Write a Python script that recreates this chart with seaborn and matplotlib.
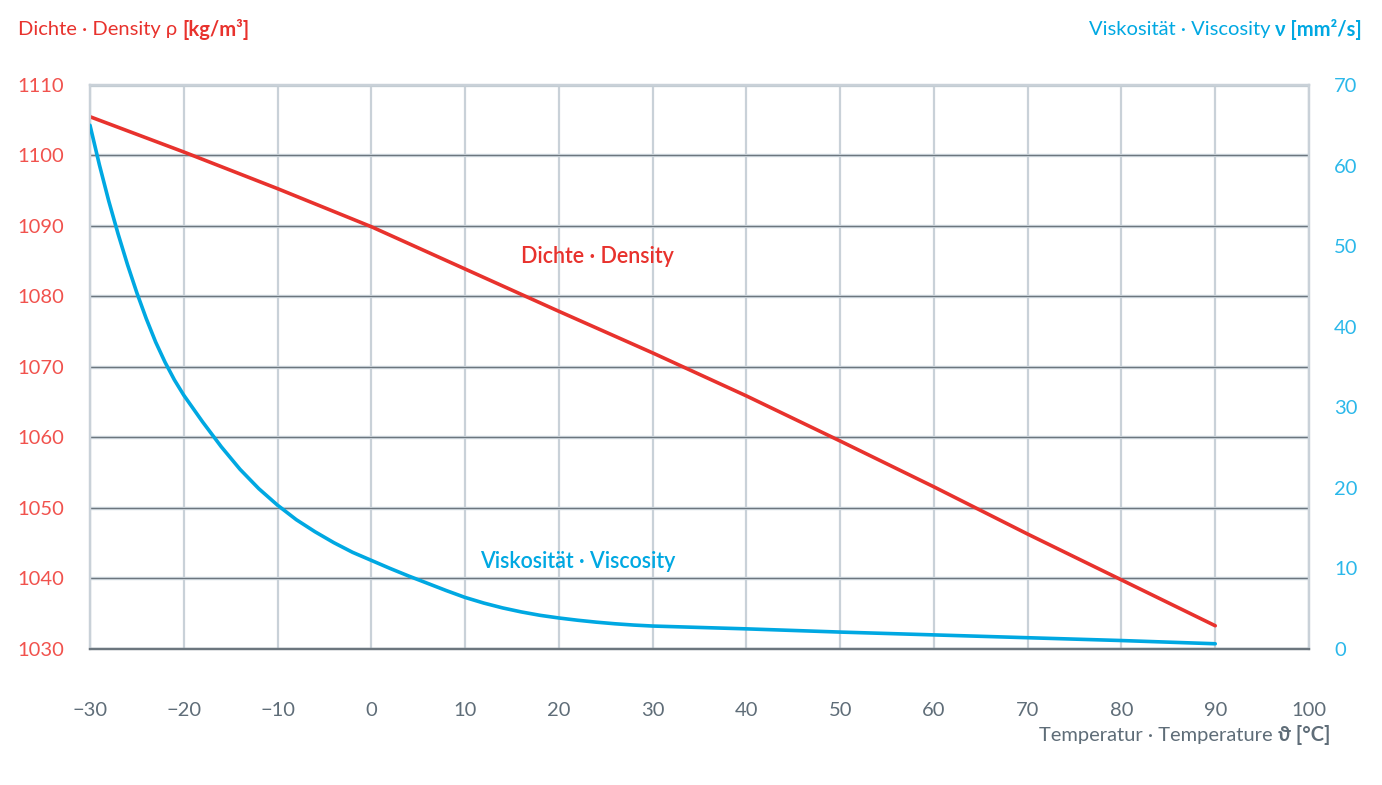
import numpy as np
import pandas as pd
import matplotlib
matplotlib.use("Agg")
import matplotlib.pyplot as plt
import seaborn as sns

# values
temp_density = [-30, -20, -10, 0, 10, 20, 30, 40, 50, 60, 70, 80, 90]
density = [1105.5, 1100.5, 1095.3, 1089.9, 1083.9, 1077.9, 1072.0,
           1065.9, 1059.5, 1053.0, 1046.3, 1039.8, 1033.3]

temp_visc = [-30, -29, -28, -27, -26, -25, -24, -23, -22, -21, -20,
             -18, -16, -14, -12, -10, -8, -6, -4, -2, 0,
             2, 4, 6, 8, 10, 12, 14, 16, 18, 20, 22, 24, 26, 28, 30,
             40, 50, 60, 70, 80, 90]
viscosity = [65.0, 60.1, 55.6, 51.5, 47.7, 44.2, 41.0, 38.1, 35.6, 33.4, 31.5,
             28.2, 25.1, 22.3, 19.9, 17.85, 16.05, 14.55, 13.2, 12.0, 11.0,
             10.0, 9.05, 8.15, 7.25, 6.4, 5.7, 5.1, 4.6, 4.18, 3.85,
             3.57, 3.33, 3.13, 2.97, 2.85,
             2.5, 2.1, 1.75, 1.4, 1.05, 0.65]

x_ticks = list(range(-30, 101, 10))
dens_ticks = list(range(1030, 1111, 10))
visc_ticks = list(range(0, 71, 10))

RED = "#e8322d"
RED_T = "#f1524d"
BLUE = "#00a8e2"
BLUE_T = "#2bb8ea"
GRAY = "#5f6d78"
GRID_L = "#c9d1d8"
GRID_D = "#6c767e"

sns.set_theme(style="white")
FAM = ["Lato", "DejaVu Sans"]
plt.rcParams["font.family"] = FAM

df_d = pd.DataFrame({"t": temp_density, "rho": density})
df_v = pd.DataFrame({"t": temp_visc, "nu": viscosity})

fig = plt.figure(figsize=(13.82, 7.85), dpi=100)
ax = fig.add_axes([90 / 1382, 1 - 649 / 785, (1309 - 90) / 1382, (649 - 85) / 785])
ax2 = ax.twinx()

ax.set_xlim(-30, 100)
ax.set_ylim(1030, 1110)
ax2.set_ylim(0, 70)

# grid
ax.set_xticks(x_ticks)
ax.set_yticks(dens_ticks)
ax.grid(axis="x", color=GRID_L, lw=1.6)
ax.grid(axis="y", color=GRID_L, lw=2.4)
for yv in dens_ticks:
    ax.axhline(yv, color=GRID_D, lw=0.8, zorder=1)
ax.set_axisbelow(True)
for a in (ax, ax2):
    for s in a.spines.values():
        s.set_color(GRID_L)
        s.set_linewidth(1.6)
    a.spines["bottom"].set_color(GRID_D)

sns.lineplot(data=df_d, x="t", y="rho", ax=ax, color=RED, lw=2.6, zorder=5)
sns.lineplot(data=df_v, x="t", y="nu", ax=ax2, color=BLUE, lw=2.6, zorder=5)
ax.set_xlabel("")
ax.set_ylabel("")
ax2.set_ylabel("")
ax2.set_yticks(visc_ticks)
ax2.grid(False)

ax.tick_params(axis="x", length=0, pad=38, labelsize=14.5, labelcolor=GRAY)
ax.tick_params(axis="y", length=0, pad=52, labelsize=14.5, labelcolor=RED_T)
ax2.tick_params(axis="y", length=0, pad=18, labelsize=14.5, labelcolor=BLUE_T)
for lab in ax.get_yticklabels():
    lab.set_ha("left")
ax.set_xticklabels([str(v).replace("-", "\u2212") for v in x_ticks])

# inline labels
ax.text(24.1, 1085.7, "Dichte \u00b7 Density", color=RED, fontsize=15.5,
        fontweight="semibold", ha="center", va="center", zorder=6)
ax2.text(22, 10.8, "Viskosit\u00e4t \u00b7 Viscosity", color=BLUE, fontsize=15.5,
         fontweight="semibold", ha="center", va="center", zorder=6)

# axis titles made of two weights
fig.canvas.draw()
r = fig.canvas.get_renderer()


def two_part(x_right, y, light, bold, color, left=None):
    if left is not None:
        t1 = fig.text(left, y, light, color=color, fontsize=14.5,
                      ha="left", va="center")
        bb = t1.get_window_extent(r)
        fig.text(bb.x1 / fig.bbox.width, y, bold, color=color, fontsize=14.5,
                 fontweight="bold", ha="left", va="center")
    else:
        t2 = fig.text(x_right, y, bold, color=color, fontsize=14.5,
                      fontweight="bold", ha="right", va="center")
        bb = t2.get_window_extent(r)
        fig.text(bb.x0 / fig.bbox.width, y, light, color=color, fontsize=14.5,
                 ha="right", va="center")


two_part(None, 1 - 30 / 785, "Dichte \u00b7 Density \u03c1 ", "[kg/m\u00b3]", RED, left=18 / 1382)
two_part(1362 / 1382, 1 - 30 / 785, "Viskosit\u00e4t \u00b7 Viscosity ", "\u03bd [mm\u00b2/s]", BLUE)
two_part(1330 / 1382, 1 - 735 / 785, "Temperatur \u00b7 Temperature ", "\u03d1 [\u00b0C]", GRAY)

fig.savefig("out.png", dpi=100)
